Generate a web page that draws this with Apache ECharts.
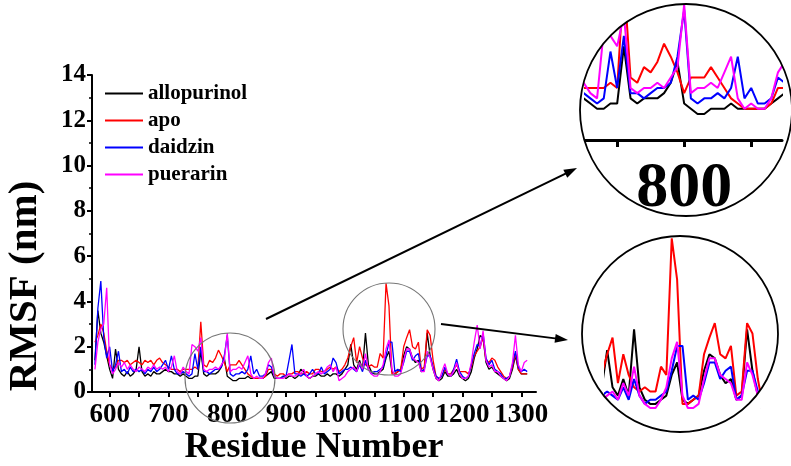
<!DOCTYPE html>
<html>
<head>
<meta charset="utf-8">
<script src="https://cdn.jsdelivr.net/npm/echarts@6/dist/echarts.min.js"></script>
<style>html,body{margin:0;padding:0;background:#fff;}#c{width:791px;height:466px;}</style>
</head>
<body>
<div id="c"></div>
<script>
const residues = [
575,580,585,590,595,600,605,610,615,620,
625,630,635,640,645,650,655,660,665,670,
675,680,685,690,695,700,705,710,715,720,
725,730,735,740,745,750,755,760,765,770,
775,780,785,790,795,800,805,810,815,820,
825,830,835,840,845,850,855,860,865,870,
875,880,885,890,895,900,905,910,915,920,
925,930,935,940,945,950,955,960,965,970,
975,980,985,990,995,1000,1005,1010,1015,1020,
1025,1030,1035,1040,1045,1050,1055,1060,1065,1070,
1075,1080,1085,1090,1095,1100,1105,1110,1115,1120,
1125,1130,1135,1140,1145,1150,1155,1160,1165,1170,
1175,1180,1185,1190,1195,1200,1205,1210,1215,1220,
1225,1230,1235,1240,1245,1250,1255,1260,1265,1270,
1275,1280,1285,1290,1295,1300,1305,1310];

const allopurinol = [
1.4,3.6,2.6,2.2,1.6,1.0,0.6,1.9,1.0,0.8,
0.7,0.9,0.7,0.8,1.0,2.0,0.9,0.7,0.8,0.7,
0.9,0.8,0.8,0.9,1.0,0.9,0.9,0.8,0.8,0.7,
0.8,0.7,0.6,0.6,0.7,0.7,1.8,0.8,0.7,0.8,
0.8,0.8,0.9,1.1,1.5,0.7,0.6,0.5,0.5,0.6,
0.6,0.6,0.7,0.6,0.6,0.6,0.6,0.6,0.7,0.8,
0.9,0.6,0.6,0.6,0.7,0.6,0.7,0.7,0.6,0.7,
1.0,0.9,0.7,0.6,0.7,0.7,0.8,0.7,0.7,0.8,
0.7,0.8,0.8,0.7,0.8,1.0,1.2,2.1,1.2,1.0,
1.4,1.0,2.6,1.2,0.9,0.8,0.8,0.9,1.0,1.5,
1.8,0.9,0.8,0.9,1.0,1.6,2.0,1.9,1.5,1.3,
1.4,0.9,1.0,2.6,1.6,1.0,0.6,0.5,0.6,0.9,
0.7,0.7,0.8,1.0,0.7,0.6,0.5,0.6,0.9,1.5,
1.9,2.5,2.4,1.3,1.0,1.1,0.9,0.8,0.7,0.6,
0.5,0.6,1.0,1.6,1.0,0.8,0.8,0.8];

const apo = [
2.2,2.5,3.0,2.6,1.8,1.2,1.0,1.1,1.4,1.4,
1.3,1.4,1.2,1.3,1.4,1.3,1.2,1.4,1.3,1.4,
1.2,1.4,1.5,1.3,1.2,1.1,1.0,1.0,1.0,0.9,
1.0,1.0,1.0,1.0,1.1,1.0,3.1,1.2,1.1,1.4,
1.3,1.5,1.85,1.6,1.3,0.9,1.2,1.2,1.2,1.4,
1.2,1.0,0.8,0.7,0.6,0.6,0.6,0.6,0.7,1.0,
1.0,0.8,0.7,0.8,0.8,0.7,0.8,0.8,0.9,0.9,
0.8,0.8,0.9,0.8,0.8,1.0,1.0,0.9,0.9,1.0,
1.1,1.0,1.1,0.9,1.0,1.2,1.5,2.0,2.4,1.3,
2.0,1.5,1.2,1.1,1.2,1.1,1.1,1.7,1.5,4.8,
3.8,0.8,0.8,0.9,1.0,2.0,2.4,2.75,2.0,1.9,
2.2,1.0,1.1,2.75,2.5,1.4,0.7,0.6,0.7,1.0,
0.8,0.8,1.0,1.2,0.9,0.9,0.9,0.8,1.1,1.6,
1.8,2.0,2.4,1.4,1.3,1.5,1.4,1.1,0.9,0.7,
0.6,0.7,1.1,1.7,1.0,0.8,0.8,0.8];

const daidzin = [
1.2,3.7,4.9,2.4,1.5,2.0,0.9,1.2,1.8,0.9,
1.0,0.8,1.1,0.9,1.0,0.9,1.0,0.8,1.0,0.9,
1.1,0.9,1.0,1.2,1.4,1.0,1.6,1.0,0.8,0.8,
0.9,0.8,0.7,0.8,1.7,1.0,2.0,0.9,0.9,0.8,
0.9,1.0,1.0,1.1,1.6,2.5,0.8,0.7,0.8,0.8,
0.9,0.8,1.0,1.6,0.8,1.0,0.7,0.7,0.8,1.2,
1.1,0.7,0.6,0.6,0.7,0.7,1.4,2.1,0.8,0.8,
0.7,0.8,0.7,0.8,1.0,0.8,0.8,1.1,0.8,0.9,
1.0,1.5,1.3,0.8,0.9,1.0,1.0,1.1,1.0,0.9,
1.2,0.9,1.4,1.0,0.8,0.9,0.9,1.0,1.1,1.6,
2.2,2.2,0.9,1.0,0.9,1.3,1.8,1.8,1.4,1.6,
1.7,0.9,1.0,1.6,1.6,1.1,0.7,0.6,0.7,1.1,
0.8,0.7,1.0,1.45,0.9,0.7,0.6,0.7,1.2,1.7,
2.1,2.0,2.6,1.5,1.2,1.4,1.0,0.9,0.8,0.6,
0.6,0.7,1.2,1.8,1.1,0.9,1.0,0.9];

const puerarin = [
1.0,2.2,2.8,3.0,4.6,1.2,0.8,1.0,1.3,1.1,
1.3,1.0,1.2,1.0,0.9,1.1,1.0,0.9,1.1,1.0,
1.2,1.0,1.1,1.0,1.1,0.9,1.1,1.6,0.9,0.8,
1.1,0.9,0.8,2.1,2.0,1.8,2.4,1.0,0.9,1.0,
1.0,1.1,1.0,1.2,1.4,2.6,0.9,1.0,1.0,1.1,
1.0,1.3,1.6,0.8,0.6,0.7,0.6,0.6,0.8,1.3,
1.5,0.7,0.6,0.6,0.6,0.7,0.8,0.7,0.7,0.8,
0.8,1.0,0.7,0.6,0.7,0.8,0.9,0.8,0.9,1.1,
1.2,0.9,1.1,0.5,0.6,0.7,0.9,1.0,1.1,0.9,
1.3,1.0,1.7,1.0,0.8,0.7,0.7,0.9,1.2,1.9,
2.3,1.0,0.7,0.7,0.8,1.4,1.9,1.9,1.5,1.4,
1.3,0.9,0.9,1.8,1.5,1.0,0.6,0.5,0.9,1.25,
0.8,0.7,0.9,1.3,0.8,0.6,0.6,0.7,1.3,2.2,
2.95,1.9,2.7,1.4,1.1,1.2,0.9,0.9,0.7,0.6,
0.5,0.7,1.3,2.5,1.2,0.9,1.3,1.4];

const seriesNames = ['allopurinol', 'apo', 'daidzin', 'puerarin'];
const seriesValues = [allopurinol, apo, daidzin, puerarin];
const seriesColors = ['#000000', '#ff0000', '#0000ff', '#ff00ff'];

const xTickValues = [600,650,700,750,800,850,900,950,1000,1050,1100,1150,1200,1250,1300];
const xLabelValues = [600,700,800,900,1000,1100,1200,1300];
const zoomTickValues = [750,800,850];
const zoomLabelValues = [800];

const FONT = '"Liberation Serif", "Times New Roman", serif';

function pairs(vals) { return residues.map((r, i) => [r, vals[i]]); }

const seriesZ = [2, 2, 51];
const series = [];
[0, 1, 2].forEach(g => {
  seriesValues.forEach((vals, i) => {
    series.push({
      type: 'line', name: seriesNames[i], xAxisIndex: g, yAxisIndex: g,
      data: pairs(vals), showSymbol: false, symbol: 'none', clip: true,
      lineStyle: { color: seriesColors[i], width: g === 0 ? 1.3 : 2 },
      itemStyle: { color: seriesColors[i] },
      emphasis: { disabled: true }, z: seriesZ[g] + i * 0.1
    });
  });
});

function arrow(x1, y1, x2, y2) {
  const dx = x2 - x1, dy = y2 - y1, L = Math.hypot(dx, dy);
  const ux = dx / L, uy = dy / L, nx = -uy, ny = ux;
  const hl = 13, hw = 4.5;
  const bx = x2 - ux * hl, by = y2 - uy * hl;
  return [
    { type: 'line', z: 60, shape: { x1: x1, y1: y1, x2: bx + ux * 2, y2: by + uy * 2 }, style: { stroke: '#000', lineWidth: 2 } },
    { type: 'polygon', z: 60, shape: { points: [[x2, y2], [bx + nx * hw, by + ny * hw], [bx - nx * hw, by - ny * hw]] }, style: { fill: '#000' } }
  ];
}

const graphics = [
  { type: 'ring', z: 50, shape: { cx: 686, cy: 110, r: 134, r0: 106 }, style: { fill: '#fff' } },
  { type: 'ring', z: 56, shape: { cx: 680, cy: 334, r: 110, r0: 98 }, style: { fill: '#fff' } },
  { type: 'circle', z: 58, shape: { cx: 686, cy: 110, r: 106 }, style: { fill: 'none', stroke: '#000', lineWidth: 1.8 } },
  { type: 'circle', z: 58, shape: { cx: 680, cy: 334, r: 98 }, style: { fill: 'none', stroke: '#000', lineWidth: 1.8 } },
  { type: 'circle', z: 58, shape: { cx: 230, cy: 378, r: 45 }, style: { fill: 'none', stroke: '#777', lineWidth: 1.1 } },
  { type: 'circle', z: 58, shape: { cx: 389, cy: 329, r: 46 }, style: { fill: 'none', stroke: '#777', lineWidth: 1.1 } },
  ...arrow(266, 319, 577, 168),
  ...arrow(441, 324, 568, 340),
  { type: 'text', z: 60, x: 25, y: 286, rotation: Math.PI / 2,
    style: { text: 'RMSF (nm)', font: 'bold 41px ' + FONT, fill: '#000', align: 'center', verticalAlign: 'middle', textAlign: 'center', textVerticalAlign: 'middle' } }
];

const plain = v => String(v);

const option = {
  animation: false,
  backgroundColor: '#fff',
  legend: {
    data: seriesNames, orient: 'vertical', left: 105, top: 83, padding: 0,
    icon: 'rect', itemWidth: 38, itemHeight: 2, itemGap: 6,
    textStyle: { fontFamily: FONT, fontWeight: 'bold', fontSize: 21, color: '#000', lineHeight: 21 }
  },
  grid: [
    { left: 92, top: 75, width: 444, height: 317, outerBoundsMode: 'none', containLabel: false },
    { left: 585, top: 0, width: 197, height: 140, outerBoundsMode: 'none', containLabel: false },
    { left: 605, top: 230, width: 155, height: 207, outerBoundsMode: 'none', containLabel: false }
  ],
  xAxis: [
    { type: 'value', gridIndex: 0, min: 570, max: 1325,
      axisLine: { show: true, onZero: false, lineStyle: { color: '#000', width: 2 } },
      axisTick: { show: true, customValues: xTickValues, length: 5, lineStyle: { color: '#000', width: 2 } },
      axisLabel: { customValues: xLabelValues, formatter: plain, margin: 10, fontFamily: FONT, fontWeight: 'bold', fontSize: 27, color: '#000' },
      splitLine: { show: false },
      name: 'Residue Number', nameLocation: 'middle', nameGap: 38, nameMoveOverlap: false,
      nameTextStyle: { fontFamily: FONT, fontWeight: 'bold', fontSize: 36, color: '#000' } },
    { type: 'value', gridIndex: 1, min: 726, max: 873,
      axisLine: { show: true, onZero: false, lineStyle: { color: '#000', width: 3 } },
      axisTick: { show: true, customValues: zoomTickValues, length: 7, lineStyle: { color: '#000', width: 3 } },
      axisLabel: { customValues: zoomLabelValues, formatter: plain, margin: 17, fontFamily: FONT, fontWeight: 'bold', fontSize: 64, color: '#000' },
      splitLine: { show: false } },
    { type: 'value', gridIndex: 2, min: 1008, max: 1152, show: false }
  ],
  yAxis: [
    { type: 'value', gridIndex: 0, min: 0, max: 14, interval: 2,
      axisLine: { show: true, lineStyle: { color: '#000', width: 2 } },
      axisTick: { show: true, length: 5, lineStyle: { color: '#000', width: 2 } },
      minorTick: { show: true, splitNumber: 2, length: 3, lineStyle: { color: '#000', width: 1.5 } },
      axisLabel: { formatter: plain, margin: 6, fontFamily: FONT, fontWeight: 'bold', fontSize: 25, color: '#000' },
      splitLine: { show: false }, minorSplitLine: { show: false } },
    { type: 'value', gridIndex: 1, min: 0, max: 2.69, show: false },
    { type: 'value', gridIndex: 2, min: 0, max: 5, show: false }
  ],
  series: series,
  graphic: graphics
};

const chart = echarts.init(document.getElementById('c'), null, { renderer: 'canvas' });
chart.setOption(option);
</script>
</body>
</html>
